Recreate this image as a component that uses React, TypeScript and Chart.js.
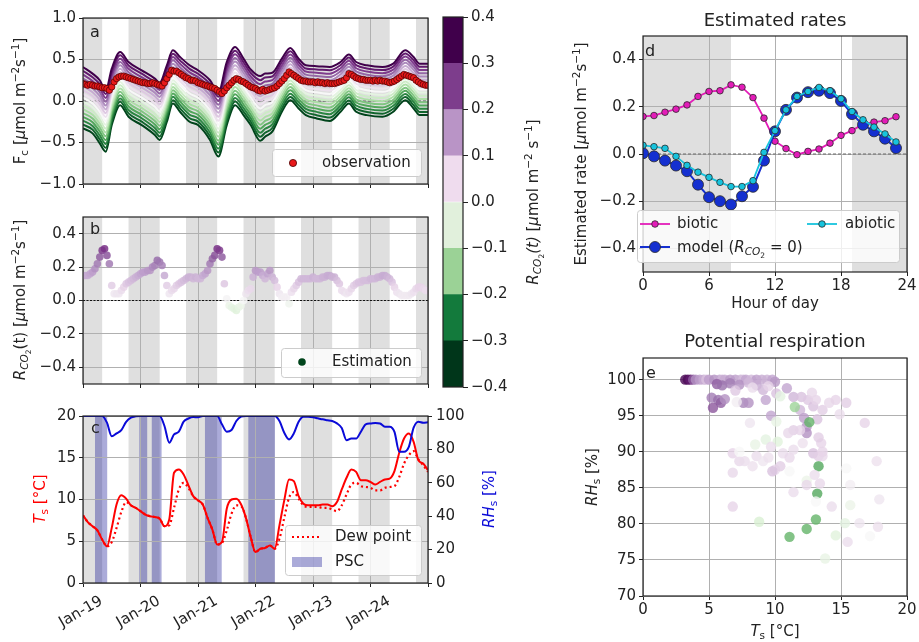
import React, { useEffect, useRef } from 'react';
import { Chart, registerables } from 'chart.js';

Chart.register(...registerables);

const W = 919;
const H = 642;
const FONT = "'DejaVu Sans', 'Liberation Sans', sans-serif";
const INK = '#222222';
const GRID = '#b0b0b0';
const NIGHT = '#dfdfdf';
const PSC_FILL = 'rgba(0, 0, 139, 0.33)';

// ---------------- shared time axis (hours after Jan-19 00:00) ----------------
const dayTicks = [0, 24, 48, 72, 96, 120, 144];
const dayLabels = ['Jan-19', 'Jan-20', 'Jan-21', 'Jan-22', 'Jan-23', 'Jan-24'];
const nightBands = [[0, 8], [19, 32], [43, 56], [67, 80], [91, 104], [115, 128], [139, 144]];
const pscBands = [[5, 10.1], [23.5, 26.8], [28.7, 32.8], [50.9, 57.9], [69, 80.1]];

// ---------------- panel a ----------------
const rcoLevels = [-0.4, -0.35, -0.3, -0.25, -0.2, -0.15, -0.1, -0.05, 0, 0.05, 0.1, 0.15, 0.2, 0.25, 0.3, 0.35, 0.4];
const fanHours = [0, 4, 7, 9.5, 12, 15.5, 19, 24.5, 30, 32, 35, 37.5, 40.5, 44.5, 48, 53, 56.5, 60, 63.5, 67, 70, 74, 76, 79, 83, 86.5, 90, 93, 97.5, 103, 107.5, 111, 114, 118.5, 125, 129.5, 134.5, 138, 140.5, 144];
const fanHigh = [0.41, 0.33, 0.25, 0.13, 0.39, 0.59, 0.47, 0.37, 0.27, 0.22, 0.43, 0.61, 0.53, 0.43, 0.37, 0.25, 0.10, 0.47, 0.65, 0.51, 0.38, 0.30, 0.33, 0.34, 0.51, 0.64, 0.51, 0.43, 0.42, 0.41, 0.47, 0.56, 0.47, 0.43, 0.41, 0.45, 0.61, 0.53, 0.45, 0.45];
const fanLow = [-0.33, -0.39, -0.51, -0.61, -0.29, -0.05, -0.19, -0.29, -0.41, -0.47, -0.25, -0.03, -0.13, -0.25, -0.29, -0.47, -0.67, -0.29, -0.05, -0.17, -0.29, -0.48, -0.43, -0.37, -0.13, 0.01, -0.09, -0.17, -0.21, -0.24, -0.13, -0.03, -0.13, -0.17, -0.19, -0.13, 0.01, -0.09, -0.17, -0.17];
const obsHours = Array.from({ length: 145 }, (_, i) => i);
const obsFc = [
  0.21, 0.20, 0.19, 0.20, 0.19, 0.18, 0.18, 0.17, 0.16, 0.16, 0.15, 0.13,
  0.17, 0.23, 0.27, 0.29, 0.30, 0.30, 0.29, 0.28, 0.27, 0.26, 0.25, 0.24,
  0.23, 0.22, 0.22, 0.21, 0.21, 0.22, 0.21, 0.20, 0.19, 0.18, 0.22, 0.27,
  0.32, 0.37, 0.36, 0.36, 0.34, 0.32, 0.30, 0.28, 0.27, 0.25, 0.25, 0.24,
  0.22, 0.21, 0.20, 0.19, 0.18, 0.17, 0.16, 0.15, 0.13, 0.11, 0.09, 0.12,
  0.16, 0.19, 0.22, 0.25, 0.27, 0.26, 0.24, 0.23, 0.21, 0.19, 0.17, 0.16,
  0.15, 0.13, 0.12, 0.14, 0.12, 0.13, 0.14, 0.15, 0.16, 0.18, 0.21, 0.24,
  0.27, 0.31, 0.35, 0.33, 0.31, 0.29, 0.27, 0.25, 0.24, 0.24, 0.23, 0.23,
  0.23, 0.22, 0.23, 0.22, 0.22, 0.21, 0.22, 0.21, 0.21, 0.21, 0.22, 0.23,
  0.24, 0.25, 0.28, 0.33, 0.32, 0.30, 0.28, 0.27, 0.26, 0.26, 0.25, 0.25,
  0.25, 0.24, 0.25, 0.24, 0.25, 0.24, 0.24, 0.23, 0.22, 0.23, 0.24, 0.26,
  0.28, 0.30, 0.32, 0.31, 0.30, 0.29, 0.28, 0.25, 0.23, 0.21, 0.20, 0.19,
  0.19,
];

// ---------------- panel b ----------------
const estR = [
  0.15, 0.15, 0.15, 0.16, 0.17, 0.19, 0.22, 0.26, 0.30, 0.31, 0.27, 0.22,
  0.09, 0.04, 0.04, 0.04, 0.06, 0.08, 0.10, 0.11, 0.12, 0.13, 0.14, 0.15,
  0.16, 0.17, 0.17, 0.18, 0.18, 0.20, 0.21, 0.24, 0.23, 0.21, 0.15, 0.09,
  0.04, 0.06, 0.07, 0.09, 0.10, 0.11, 0.12, 0.13, 0.14, 0.14, 0.13, 0.14,
  0.13, 0.13, 0.15, 0.16, 0.18, 0.22, 0.25, 0.27, 0.31, 0.30, 0.26, 0.10,
  0.01, -0.03, -0.04, -0.05, -0.06, -0.04, -0.03, 0.00, 0.04, 0.06, 0.07, 0.14,
  0.18, 0.17, 0.17, 0.15, 0.13, 0.16, 0.18, 0.14, 0.12, 0.08, 0.04, 0.02,
  0.02, 0.02, -0.02, 0.05, 0.07, 0.09, 0.11, 0.13, 0.13, 0.13, 0.13, 0.13,
  0.14, 0.13, 0.13, 0.13, 0.14, 0.14, 0.15, 0.15, 0.14, 0.14, 0.12, 0.10,
  0.06, 0.05, 0.04, 0.05, 0.07, 0.09, 0.10, 0.11, 0.11, 0.12, 0.12, 0.12,
  0.13, 0.13, 0.13, 0.14, 0.14, 0.15, 0.15, 0.14, 0.13, 0.11, 0.08, 0.05,
  0.04, 0.03, 0.03, 0.03, 0.03, 0.04, 0.05, 0.07, 0.08, 0.08, 0.07, 0.06,
  0.06,
];

// ---------------- panel c ----------------
const cHours = Array.from({ length: 73 }, (_, i) => i * 2);
const tsC = [
  8.1, 7.3, 6.8, 6.3, 5.2, 4.4, 6.6, 9.4, 10.5, 10.1, 9.3, 9.0,
  8.6, 8.2, 8.0, 7.9, 7.7, 6.8, 7.6, 13.2, 13.6, 13.0, 11.7, 10.4,
  9.9, 9.4, 7.8, 6.4, 4.6, 4.9, 8.9, 10.0, 10.1, 9.4, 7.8, 5.5,
  3.7, 4.1, 4.2, 4.5, 4.1, 6.9, 9.9, 12.4, 12.2, 10.4, 9.5, 9.3,
  9.3, 9.3, 9.4, 9.4, 9.2, 9.7, 11.2, 12.6, 13.6, 13.3, 12.3, 12.3,
  12.1, 11.8, 12.1, 12.4, 12.5, 13.4, 15.6, 17.3, 17.9, 16.9, 14.7, 14.3,
  13.5,
];
const dewC = [
  8.1, 7.3, 6.8, 6.3, 5.2, 4.4, 4.9, 6.6, 8.5, 9.7, 9.3, 9.0,
  8.6, 8.2, 8.0, 7.9, 7.7, 6.8, 6.9, 9.0, 11.2, 12.0, 11.4, 10.4,
  9.9, 9.4, 7.8, 6.4, 4.6, 4.8, 6.3, 8.3, 9.3, 9.2, 7.8, 5.5,
  3.7, 4.1, 4.2, 4.5, 4.1, 5.3, 7.8, 10.2, 10.9, 10.1, 9.3, 9.1,
  9.1, 9.1, 9.0, 9.0, 8.8, 8.6, 9.3, 10.6, 11.8, 12.0, 11.6, 11.5,
  11.4, 11.1, 11.1, 11.4, 11.5, 11.6, 12.7, 14.3, 15.3, 15.8, 14.8, 14.1,
  13.3,
];
const rhC = [
  100, 100, 100, 100, 100, 96, 87.8, 89.6, 91.5, 96.5, 99, 99.8,
  100, 100, 100, 100, 100, 94, 84, 89, 90.6, 96.6, 98.5, 99.4,
  99.2, 100, 100, 100, 100, 95, 90.6, 91.6, 97, 99.6, 100, 100,
  100, 100, 100, 100, 100, 97, 90, 86, 89.6, 96.6, 99.6, 99.5,
  99.2, 98.6, 98, 97.5, 97, 95.6, 92.8, 85.5, 86.6, 86.5, 90.6, 95,
  95.5, 95.8, 95.5, 93.6, 93.6, 90.5, 78.6, 78.6, 81.5, 93, 96.6, 96,
  96.2,
];

// ---------------- colorbar ----------------
const cbBounds = [-0.4, -0.3, -0.2, -0.1, 0, 0.1, 0.2, 0.3, 0.4];
const cbColors = ['#00361a', '#137a3c', '#9bd296', '#e1f0dc', '#efdcee', '#b994c6', '#7d3d8c', '#40004b'];

// ---------------- panel d ----------------
const hourOfDay = [0, 1, 2, 3, 4, 5, 6, 7, 8, 9, 10, 11, 12, 13, 14, 15, 16, 17, 18, 19, 20, 21, 22, 23];
const biotic = [0.159, 0.163, 0.177, 0.19, 0.208, 0.244, 0.265, 0.268, 0.293, 0.283, 0.239, 0.152, 0.054, 0.023, -0.003, 0.011, 0.021, 0.046, 0.079, 0.099, 0.127, 0.135, 0.141, 0.158];
const modelZero = [0.003, -0.01, -0.028, -0.049, -0.073, -0.13, -0.183, -0.2, -0.214, -0.179, -0.139, -0.028, 0.096, 0.187, 0.239, 0.262, 0.268, 0.258, 0.225, 0.169, 0.124, 0.096, 0.065, 0.025];
const abiotic = [0.037, 0.031, 0.024, -0.01, -0.048, -0.077, -0.099, -0.12, -0.138, -0.138, -0.113, 0.007, 0.099, 0.187, 0.244, 0.265, 0.282, 0.268, 0.234, 0.18, 0.145, 0.114, 0.085, 0.051];
const dNight = [[0, 8], [19, 24]];

// ---------------- panel e ----------------
const eTs = [
  3.2, 3.4, 3.6, 3.8, 4.0, 4.3, 4.6, 4.8, 5.0, 5.4, 5.8, 6.0, 6.2, 6.6, 7.0, 7.4, 7.6, 7.8, 8.2, 8.6, 9.0, 9.4, 9.8, 10.0,
  5.6, 6.0, 6.6, 7.3, 8.0, 8.6, 9.1, 10.9, 9.5, 8.3, 7.0,
  5.2, 5.7, 5.9, 5.3, 6.2, 7.6, 8.0, 9.3, 10.1, 11.4, 12.0, 12.5, 12.9, 13.1, 13.6, 14.1, 14.6, 15.4, 14.9, 12.8, 7.1,
  9.7, 11.9, 12.2, 12.4, 12.4, 11.4, 11.0, 11.9, 8.1, 16.8, 13.2,
  10.4, 11.5, 12.6, 10.1, 9.3, 8.5, 10.2, 13.3, 13.2, 13.1, 12.4, 11.1, 8.8, 14.6, 15.3, 13.8, 15.7, 12.4,
  6.8, 7.3, 7.7, 6.8, 8.3, 8.6, 9.1, 9.5, 9.7, 10.0, 10.4, 10.6, 11.1, 11.4, 12.1, 12.9, 13.3, 13.6, 13.5, 13.0,
  13.4, 12.4, 11.4, 13.1, 14.3, 9.8, 6.8, 16.4, 15.5, 17.2, 17.8, 17.7, 17.9, 15.4, 15.7, 11.1, 7.3, 13.6, 13.3,
];
const eRH = [
  100, 100, 100, 100, 100, 100, 100, 100, 100, 100, 100, 100, 100, 100, 100, 100, 100, 100, 100, 100, 100, 100, 100, 99.7,
  99.4, 99.2, 99.5, 99.3, 99.6, 99.2, 98.6, 98.8, 99.1, 98.9, 98.5,
  97.5, 97.2, 96.8, 96.1, 97.3, 96.8, 96.8, 97.2, 98.1, 97.6, 97.6, 97.2, 96.3, 97.2, 95.8, 96.8, 97.2, 96.8, 95.2, 98.2, 96.9,
  95.0, 95.8, 94.7, 93.5, 92.6, 93.0, 92.6, 93.0, 94.0, 94.0, 94.5,
  97.7, 96.2, 94.1, 94.2, 91.7, 91.0, 91.4, 88.0, 84.2, 80.6, 79.3, 78.2, 80.3, 78.4, 80.1, 75.2, 82.6, 86.0,
  89.8, 88.7, 88.7, 87.1, 88.0, 89.4, 88.7, 89.2, 90.7, 87.5, 88.0, 89.8, 89.2, 90.3, 91.2, 89.8, 89.4, 89.4, 91.2, 86.8,
  85.6, 85.4, 84.4, 83.1, 82.4, 87.3, 82.4, 80.1, 77.5, 78.3, 79.6, 88.7, 83.4, 87.7, 85.4, 87.3, 90.0, 90.0, 92.0,
];
const eR = [
  0.39, 0.38, 0.35, 0.26, 0.19, 0.17, 0.15, 0.11, 0.17, 0.19, 0.16, 0.13, 0.15, 0.18, 0.17, 0.14, 0.12, 0.16, 0.13, 0.17, 0.15, 0.14, 0.16, 0.18,
  0.26, 0.24, 0.22, 0.19, 0.13, 0.15, 0.13, 0.16, 0.08, 0.06, 0.10,
  0.22, 0.24, 0.26, 0.27, 0.19, 0.21, 0.19, 0.16, 0.11, 0.13, 0.11, 0.10, 0.11, 0.08, 0.09, 0.07, 0.08, 0.09, 0.06, 0.07, 0.02,
  0.16, 0.13, 0.17, 0.18, 0.19, 0.09, 0.07, 0.08, 0.04, 0.08, 0.11,
  -0.05, -0.17, -0.23, -0.04, -0.05, -0.04, -0.06, -0.25, -0.25, -0.23, -0.23, -0.23, -0.08, -0.06, -0.05, -0.04, -0.03, -0.03,
  0.08, 0.07, 0.06, 0.07, 0.05, 0.06, 0.04, 0.05, 0.06, 0.07, 0.09, 0.06, 0.07, 0.06, 0.05, 0.11, 0.09, 0.07, 0.08, 0.06,
  0.07, 0.07, 0.06, 0.00, 0.06, 0.11, 0.08, 0.04, 0.06, 0.00, 0.05, 0.05, 0.04, 0.00, 0.02, 0.00, 0.00, 0.08, 0.09,
];

// ---------------- helpers ----------------
const PRGN = ['#40004b', '#762a83', '#9970ab', '#c2a5cf', '#e7d4e8', '#f7f7f7', '#d9f0d3', '#a6dba0', '#5aae61', '#1b7837', '#00441b'];
function hexRgb(h: string) {
  return [parseInt(h.slice(1, 3), 16), parseInt(h.slice(3, 5), 16), parseInt(h.slice(5, 7), 16)];
}
function rcoColor(r: number, alpha = 1) {
  const t = 1 - Math.min(Math.max((r + 0.4) / 0.8, 0), 1);
  const x = t * 10;
  const i = Math.min(Math.floor(x), 9);
  const f = x - i;
  const a = hexRgb(PRGN[i]);
  const b = hexRgb(PRGN[i + 1]);
  const c = a.map((v, k) => Math.round(v + (b[k] - v) * f));
  return `rgba(${c[0]},${c[1]},${c[2]},${alpha})`;
}
const fmt1 = (v: number) => (Math.abs(v) < 1e-9 ? '0.0' : (v < 0 ? '\u2212' : '') + Math.abs(v).toFixed(1));
const fmt0 = (v: number) => (v < 0 ? '\u2212' : '') + String(Math.abs(Math.round(v)));

function axis(o: any) {
  const { min, max, ticks, fmt = fmt1, size, labels = true, grid = true, position, tickLen = 4, pad = 3 } = o;
  const ax: any = {
    type: 'linear',
    min,
    max,
    afterBuildTicks: (s: any) => {
      s.ticks = ticks.map((v: number) => ({ value: v }));
    },
    afterFit: (s: any) => {
      if (s.isHorizontal()) s.height = size;
      else s.width = size;
      s.paddingTop = 0;
      s.paddingBottom = 0;
      s.paddingLeft = 0;
      s.paddingRight = 0;
    },
    ticks: {
      display: labels,
      autoSkip: false,
      maxRotation: 0,
      minRotation: 0,
      padding: pad,
      color: INK,
      font: { family: FONT, size: 15 },
      callback: (v: any) => fmt(Number(v)),
    },
    grid: { display: true, drawOnChartArea: grid, color: GRID, lineWidth: 1, drawTicks: true, tickLength: tickLen, tickColor: INK, tickWidth: 1 },
    border: { display: false },
  };
  if (position) ax.position = position;
  return ax;
}

function pad(L: number, T: number, R: number, B: number, leftAxis: number, bottomAxis: number, rightAxis = 0) {
  return { left: L - leftAxis, top: T, right: W - R - rightAxis, bottom: H - B - bottomAxis };
}

function baseOptions(padding: any, scales: any) {
  return {
    responsive: false,
    animation: false,
    devicePixelRatio: 1,
    events: [],
    layout: { padding, autoPadding: false },
    plugins: { legend: { display: false }, tooltip: { enabled: false }, title: { display: false } },
    scales,
  };
}

const framePlugin = {
  id: 'frame',
  afterDatasetsDraw(chart: any) {
    const { left, top, right, bottom } = chart.chartArea;
    const ctx = chart.ctx;
    ctx.save();
    ctx.strokeStyle = INK;
    ctx.lineWidth = 1.2;
    ctx.strokeRect(left, top, right - left, bottom - top);
    ctx.restore();
  },
};

function bandsPlugin(id: string, bands: number[][], color: string) {
  return {
    id,
    beforeDraw(chart: any) {
      const xs = chart.scales.x;
      const { left, right, top, bottom } = chart.chartArea;
      const ctx = chart.ctx;
      ctx.save();
      ctx.fillStyle = color;
      for (const [a, b] of bands) {
        const x0 = Math.max(left, xs.getPixelForValue(a));
        const x1 = Math.min(right, xs.getPixelForValue(b));
        if (x1 > x0) ctx.fillRect(x0, top, x1 - x0, bottom - top);
      }
      ctx.restore();
    },
  };
}

function zeroLine(color: string, dash: number[], lw: number) {
  return {
    id: 'zero',
    beforeDatasetsDraw(chart: any) {
      const y = chart.scales.y.getPixelForValue(0);
      const { left, right } = chart.chartArea;
      const ctx = chart.ctx;
      ctx.save();
      ctx.strokeStyle = color;
      ctx.lineWidth = lw;
      ctx.setLineDash(dash);
      ctx.beginPath();
      ctx.moveTo(left, y);
      ctx.lineTo(right, y);
      ctx.stroke();
      ctx.restore();
    },
  };
}

function decor(fn: (ctx: CanvasRenderingContext2D, chart: any) => void) {
  return {
    id: 'decor',
    afterDraw(chart: any) {
      const ctx = chart.ctx;
      ctx.save();
      fn(ctx, chart);
      ctx.restore();
    },
  };
}

type Seg = [string, string];
function drawRich(ctx: CanvasRenderingContext2D, segs: Seg[], x: number, y: number, size: number, color: string, rot = 0, align = 'center') {
  ctx.save();
  ctx.translate(x, y);
  if (rot) ctx.rotate(rot);
  const items = segs.map(([t, st]) => {
    let fs = size;
    let dy = 0;
    if (st === 'sub' || st === 'subi') {
      fs = size * 0.7;
      dy = size * 0.2;
    } else if (st === 'sub2') {
      fs = size * 0.5;
      dy = size * 0.36;
    } else if (st === 'sup') {
      fs = size * 0.7;
      dy = -size * 0.4;
    }
    const italic = st === 'i' || st === 'subi';
    const font = `${italic ? 'italic ' : ''}${fs.toFixed(1)}px ${FONT}`;
    ctx.font = font;
    return { t, font, dy, w: ctx.measureText(t).width };
  });
  const total = items.reduce((s, it) => s + it.w, 0);
  let cx = align === 'center' ? -total / 2 : 0;
  ctx.fillStyle = color;
  ctx.textBaseline = 'alphabetic';
  ctx.textAlign = 'left';
  for (const it of items) {
    ctx.font = it.font;
    ctx.fillText(it.t, cx, size * 0.36 + it.dy);
    cx += it.w;
  }
  ctx.restore();
}

function text(ctx: CanvasRenderingContext2D, s: string, x: number, y: number, size = 15, color = INK, align: CanvasTextAlign = 'left') {
  ctx.font = `${size}px ${FONT}`;
  ctx.fillStyle = color;
  ctx.textAlign = align;
  ctx.textBaseline = 'middle';
  ctx.fillText(s, x, y);
}
function letter(ctx: CanvasRenderingContext2D, s: string, x: number, baseline: number) {
  ctx.font = `16px ${FONT}`;
  ctx.fillStyle = INK;
  ctx.textAlign = 'left';
  ctx.textBaseline = 'alphabetic';
  ctx.fillText(s, x, baseline);
}
function legendBox(ctx: CanvasRenderingContext2D, x: number, y: number, w: number, h: number) {
  ctx.save();
  ctx.beginPath();
  (ctx as any).roundRect(x + 0.5, y + 0.5, w, h, 3);
  ctx.fillStyle = 'rgba(255,255,255,0.8)';
  ctx.fill();
  ctx.strokeStyle = '#cccccc';
  ctx.lineWidth = 1;
  ctx.stroke();
  ctx.restore();
}
function dot(ctx: CanvasRenderingContext2D, x: number, y: number, r: number, fill: string, stroke?: string, lw = 0.8) {
  ctx.beginPath();
  ctx.arc(x, y, r, 0, Math.PI * 2);
  ctx.fillStyle = fill;
  ctx.fill();
  if (stroke) {
    ctx.strokeStyle = stroke;
    ctx.lineWidth = lw;
    ctx.stroke();
  }
}
function hline(ctx: CanvasRenderingContext2D, x0: number, x1: number, y: number, color: string, lw: number, dash: number[] = []) {
  ctx.save();
  ctx.strokeStyle = color;
  ctx.lineWidth = lw;
  ctx.setLineDash(dash);
  ctx.beginPath();
  ctx.moveTo(x0, y);
  ctx.lineTo(x1, y);
  ctx.stroke();
  ctx.restore();
}

const UNIT: Seg[] = [[' [', 'n'], ['\u03bc', 'i'], ['mol m', 'n'], ['\u22122', 'sup'], ['s', 'n'], ['\u22121', 'sup'], [']', 'n']];
const UNIT_CB: Seg[] = [[' [', 'n'], ['\u03bc', 'i'], ['mol m', 'n'], ['\u22122', 'sup'], [' s', 'n'], ['\u22121', 'sup'], [']', 'n']];
const ROT = -Math.PI / 2;

const BIOTIC_COL = '#e31cb8';
const MODEL_COL = '#1530d0';
const ABIOTIC_COL = '#17c3dd';
const TS_COL = '#ff0000';
const RH_COL = '#0a0ad8';

// ---------------- chart builders ----------------
function makeA(cv: HTMLCanvasElement) {
  const lines = rcoLevels.map((r, k) => ({
    data: fanHours.map((h, i) => ({ x: h, y: fanLow[i] + ((r + 0.4) / 0.8) * (fanHigh[i] - fanLow[i]) })),
    borderColor: rcoColor(r),
    backgroundColor: rcoColor(r),
    borderWidth: 2,
    pointRadius: 0,
    cubicInterpolationMode: 'monotone',
    order: 100 - k,
  }));
  const obs = {
    data: obsHours.map((h, i) => ({ x: h, y: obsFc[i] })),
    showLine: false,
    pointRadius: 3.2,
    pointBackgroundColor: '#e8191a',
    pointBorderColor: '#4a0000',
    pointBorderWidth: 0.7,
    borderColor: '#e8191a',
    order: 0,
  };
  return new Chart(cv, {
    type: 'line',
    data: { datasets: [...lines, obs] } as any,
    options: baseOptions(pad(83, 18, 428, 184, 80, 10), {
      x: axis({ min: 0, max: 144, ticks: dayTicks, size: 10, labels: false }),
      y: axis({ min: -1, max: 1, ticks: [-1, -0.5, 0, 0.5, 1], size: 80 }),
    }) as any,
    plugins: [
      bandsPlugin('night', nightBands, NIGHT),
      zeroLine('#555555', [3, 2], 1),
      framePlugin,
      decor((ctx) => {
        letter(ctx, 'a', 90, 37);
        drawRich(ctx, [['F', 'n'], ['c', 'sub'], ...UNIT], 20, 101, 15, INK, ROT);
        legendBox(ctx, 272, 149, 149, 27);
        dot(ctx, 293, 163, 3.6, '#e8191a', '#4a0000', 0.8);
        text(ctx, 'observation', 322, 163);
      }),
    ],
  });
}

function makeB(cv: HTMLCanvasElement) {
  return new Chart(cv, {
    type: 'line',
    data: {
      datasets: [
        {
          data: obsHours.map((h, i) => ({ x: h, y: estR[i] })),
          showLine: false,
          pointRadius: 3.8,
          pointBorderWidth: 0,
          pointBackgroundColor: estR.map((r) => rcoColor(r, 0.85)),
          borderColor: '#00441b',
        },
      ],
    } as any,
    options: baseOptions(pad(83, 217, 428, 384, 80, 10), {
      x: axis({ min: 0, max: 144, ticks: dayTicks, size: 10, labels: false }),
      y: axis({ min: -0.5, max: 0.5, ticks: [-0.4, -0.2, 0, 0.2, 0.4], size: 80 }),
    }) as any,
    plugins: [
      bandsPlugin('night', nightBands, NIGHT),
      zeroLine('#111111', [2, 1.5], 1),
      framePlugin,
      decor((ctx) => {
        letter(ctx, 'b', 90, 234);
        drawRich(ctx, [['R', 'i'], ['CO', 'subi'], ['2', 'sub2'], ['(t)', 'n'], ...UNIT], 20, 300, 15, INK, ROT);
        legendBox(ctx, 281, 348, 140, 29);
        dot(ctx, 302, 362, 3.8, '#00441b');
        text(ctx, 'Estimation', 332, 362);
      }),
    ],
  });
}

function makeC(cv: HTMLCanvasElement) {
  return new Chart(cv, {
    type: 'line',
    data: {
      datasets: [
        {
          data: cHours.map((h, i) => ({ x: h, y: rhC[i] })),
          yAxisID: 'y2',
          borderColor: RH_COL,
          borderWidth: 2,
          pointRadius: 0,
          cubicInterpolationMode: 'monotone',
          order: 0,
        },
        {
          data: cHours.map((h, i) => ({ x: h, y: dewC[i] })),
          borderColor: TS_COL,
          borderWidth: 2.2,
          borderDash: [2, 3],
          pointRadius: 0,
          cubicInterpolationMode: 'monotone',
          order: 1,
        },
        {
          data: cHours.map((h, i) => ({ x: h, y: tsC[i] })),
          borderColor: TS_COL,
          borderWidth: 2,
          pointRadius: 0,
          cubicInterpolationMode: 'monotone',
          order: 2,
        },
      ],
    } as any,
    options: baseOptions(pad(83, 416, 428, 583, 80, 10, 40), {
      x: axis({ min: 0, max: 144, ticks: dayTicks, size: 10, labels: false }),
      y: axis({ min: 0, max: 20, ticks: [0, 5, 10, 15, 20], fmt: fmt0, size: 80 }),
      y2: axis({ min: 0, max: 100, ticks: [0, 20, 40, 60, 80, 100], fmt: fmt0, size: 40, grid: false, position: 'right', pad: 4 }),
    }) as any,
    plugins: [
      bandsPlugin('night', nightBands, NIGHT),
      bandsPlugin('psc', pscBands, PSC_FILL),
      framePlugin,
      decor((ctx, chart) => {
        letter(ctx, 'c', 91, 433);
        drawRich(ctx, [['T', 'i'], ['s', 'sub'], [' [\u00b0C]', 'n']], 40, 499, 15, TS_COL, ROT);
        drawRich(ctx, [['RH', 'i'], ['s', 'sub'], [' [%]', 'n']], 489, 499, 15, RH_COL, ROT);
        const xs = chart.scales.x;
        dayLabels.forEach((lab, i) => {
          const px = xs.getPixelForValue(dayTicks[i]);
          ctx.save();
          ctx.translate(px - 2, 612);
          ctx.rotate(-Math.PI / 6);
          text(ctx, lab, 0, 0, 15, INK, 'center');
          ctx.restore();
        });
        legendBox(ctx, 285, 525, 136, 50);
        hline(ctx, 292, 322, 537, TS_COL, 2.2, [2, 3]);
        text(ctx, 'Dew point', 335, 537);
        ctx.fillStyle = PSC_FILL;
        ctx.fillRect(292, 557, 30, 10);
        text(ctx, 'PSC', 335, 562);
      }),
    ],
  });
}

function makeCB(cv: HTMLCanvasElement) {
  return new Chart(cv, {
    type: 'bar',
    data: {
      labels: ['cb'],
      datasets: cbColors.map((c, i) => ({
        data: [[cbBounds[i], cbBounds[i + 1]]],
        backgroundColor: c,
        borderWidth: 0,
        grouped: false,
        barPercentage: 1,
        categoryPercentage: 1,
      })),
    } as any,
    options: baseOptions(pad(443, 17, 463, 387, 0, 0, 50), {
      x: { type: 'category', display: false },
      y: axis({ min: -0.4, max: 0.4, ticks: cbBounds, size: 50, grid: false, position: 'right', tickLen: 5, pad: 3 }),
    }) as any,
    plugins: [
      framePlugin,
      decor((ctx) => {
        drawRich(ctx, [['R', 'i'], ['CO', 'subi'], ['2', 'sub2'], ['(t)', 'i'], ...UNIT_CB], 533, 202, 15, INK, ROT);
      }),
    ],
  });
}

function makeD(cv: HTMLCanvasElement) {
  const ds = (vals: number[], col: string, r: number, lw: number, order: number) => ({
    data: hourOfDay.map((h, i) => ({ x: h, y: vals[i] })),
    borderColor: col,
    backgroundColor: col,
    borderWidth: lw,
    pointRadius: r,
    pointBackgroundColor: col,
    pointBorderColor: '#2a2a2a',
    pointBorderWidth: 0.8,
    tension: 0,
    order,
  });
  return new Chart(cv, {
    type: 'line',
    data: { datasets: [ds(biotic, BIOTIC_COL, 3.3, 1.8, 2), ds(modelZero, MODEL_COL, 5.5, 2, 1), ds(abiotic, ABIOTIC_COL, 3.3, 1.8, 0)] } as any,
    options: baseOptions(pad(643, 36, 907, 272, 70, 30), {
      x: axis({ min: 0, max: 24, ticks: [0, 6, 12, 18, 24], fmt: fmt0, size: 30, pad: 1 }),
      y: axis({ min: -0.5, max: 0.5, ticks: [-0.4, -0.2, 0, 0.2, 0.4], size: 70 }),
    }) as any,
    plugins: [
      bandsPlugin('night', dNight, NIGHT),
      zeroLine('#666666', [3, 2], 1),
      framePlugin,
      decor((ctx) => {
        text(ctx, 'Estimated rates', 775, 21, 18, INK, 'center');
        letter(ctx, 'd', 645, 56);
        drawRich(ctx, [['Estimated rate', 'n'], ...UNIT], 581, 154, 15, INK, ROT);
        text(ctx, 'Hour of day', 775, 304, 15, INK, 'center');
        legendBox(ctx, 637, 210, 262, 52);
        hline(ctx, 640, 670, 224, BIOTIC_COL, 1.8);
        dot(ctx, 655, 224, 3.3, BIOTIC_COL, '#2a2a2a');
        text(ctx, 'biotic', 677, 224);
        hline(ctx, 807, 837, 224, ABIOTIC_COL, 1.8);
        dot(ctx, 822, 224, 3.3, ABIOTIC_COL, '#2a2a2a');
        text(ctx, 'abiotic', 845, 224);
        hline(ctx, 640, 670, 247, MODEL_COL, 2);
        dot(ctx, 655, 247, 5.5, MODEL_COL, '#2a2a2a');
        drawRich(ctx, [['model (', 'n'], ['R', 'i'], ['CO', 'subi'], ['2', 'sub2'], [' = 0', 'n'], [')', 'n']], 677, 247, 15, INK, 0, 'left');
      }),
    ],
  });
}

function makeE(cv: HTMLCanvasElement) {
  return new Chart(cv, {
    type: 'line',
    data: {
      datasets: [
        {
          data: eTs.map((t, i) => ({ x: t, y: eRH[i] })),
          showLine: false,
          pointRadius: 5.2,
          pointBorderWidth: 0,
          pointBackgroundColor: eR.map((r) => rcoColor(r, 0.8)),
          borderColor: '#9970ab',
        },
      ],
    } as any,
    options: baseOptions(pad(643, 358, 907, 596, 60, 30), {
      x: axis({ min: 0, max: 20, ticks: [0, 5, 10, 15, 20], fmt: fmt0, size: 30, pad: 1 }),
      y: axis({ min: 70, max: 103, ticks: [70, 75, 80, 85, 90, 95, 100], fmt: fmt0, size: 60 }),
    }) as any,
    plugins: [
      framePlugin,
      decor((ctx) => {
        text(ctx, 'Potential respiration', 775, 342, 18, INK, 'center');
        letter(ctx, 'e', 646, 378);
        drawRich(ctx, [['RH', 'i'], ['s', 'sub'], [' [%]', 'n']], 592, 477, 15, INK, ROT);
        drawRich(ctx, [['T', 'i'], ['s', 'sub'], [' [\u00b0C]', 'n']], 775, 631, 15, INK, 0);
      }),
    ],
  });
}

export default function App() {
  const r0 = useRef<HTMLCanvasElement>(null);
  const r1 = useRef<HTMLCanvasElement>(null);
  const r2 = useRef<HTMLCanvasElement>(null);
  const r3 = useRef<HTMLCanvasElement>(null);
  const r4 = useRef<HTMLCanvasElement>(null);
  const r5 = useRef<HTMLCanvasElement>(null);
  const refs = [r0, r1, r2, r3, r4, r5];

  useEffect(() => {
    document.body.style.margin = '0';
    Chart.defaults.font.family = FONT;
    Chart.defaults.font.size = 15;
    Chart.defaults.color = INK;
    const makers = [makeA, makeB, makeC, makeCB, makeD, makeE];
    const charts = makers.map((mk, i) => mk(refs[i].current as HTMLCanvasElement));
    return () => charts.forEach((c) => c.destroy());
  }, []);

  return (
    <div style={{ position: 'fixed', left: 0, top: 0, width: W, height: H, background: '#ffffff', overflow: 'hidden' }}>
      {refs.map((r, i) => (
        <canvas key={i} ref={r} width={W} height={H} style={{ position: 'absolute', left: 0, top: 0, width: W, height: H }} />
      ))}
    </div>
  );
}
